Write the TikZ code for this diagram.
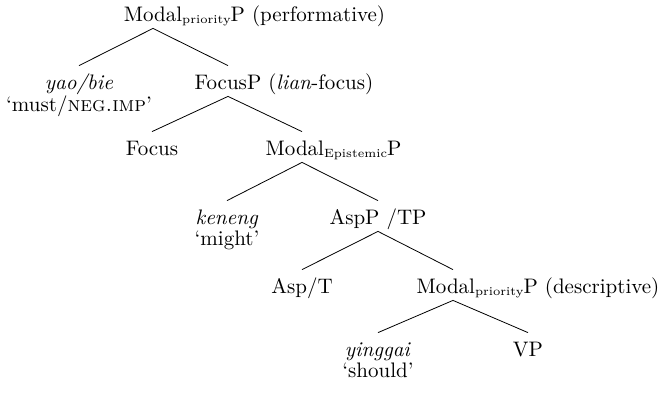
\documentclass[tikz,border=0pt]{standalone}
\usepackage{tikz}
\usetikzlibrary{positioning}
\tikzstyle{cat}=[inner sep=0pt, inner ysep=2pt, text height=9.5pt, text depth=1.5pt, anchor=base]
\tikzstyle{gloss}=[inner sep=0pt]
\newcommand{\branches}[3]{
 \draw (#2.north) -- (#1.south) -- (#3.north);
}
\newcommand{\lowsub}[1]{\raisebox{-.3ex}{\fontsize{6}{7}\selectfont #1}}
\begin{document}
\begin{tikzpicture}[x=0.5pt, y=-0.5pt, font=\fontsize{10.5}{13}\selectfont]
 \useasboundingbox (0,0) rectangle (659,393);
%
 \node[cat] (root) at (153,21) {\rlap{Modal\lowsub{priority}P (performative)}\phantom{Modal}};
 \node[cat] (yao) at (79,89) {\textit{yao/bie}};
 \node[gloss, below=-0.5pt of yao] (must) {`must/\textsc{neg.imp}'};
 \node[cat] (focp) at (228,89) {FocusP\rlap{ (\textit{lian}-focus)}};
 \node[cat] (foc) at (152,155) {Focus};
 \node[cat] (mepi) at (302,155) {\rlap{Modal\lowsub{Epistemic}P}\phantom{ModalP}};
 \node[cat] (ken) at (227,224) {\textit{keneng}};
 \node[gloss, below=-0.5pt of ken] (might) {`might'};
 \node[cat] (asp) at (378,224) {AspP /TP};
 \node[cat] (aspt) at (302,293) {Asp/T};
 \node[cat] (mdes) at (453,293) {\rlap{Modal\lowsub{priority}P (descriptive)}\phantom{ModalP}};
 \node[cat] (ying) at (378,356) {\textit{yinggai}};
 \node[gloss, below=-0.5pt of ying] (should) {`should'};
 \node[cat] (vp) at (528,356) {VP};
%
 \branches{root}{yao}{focp}
 \branches{focp}{foc}{mepi}
 \branches{mepi}{ken}{asp}
 \branches{asp}{aspt}{mdes}
 \branches{mdes}{ying}{vp}
\end{tikzpicture}
\end{document}
